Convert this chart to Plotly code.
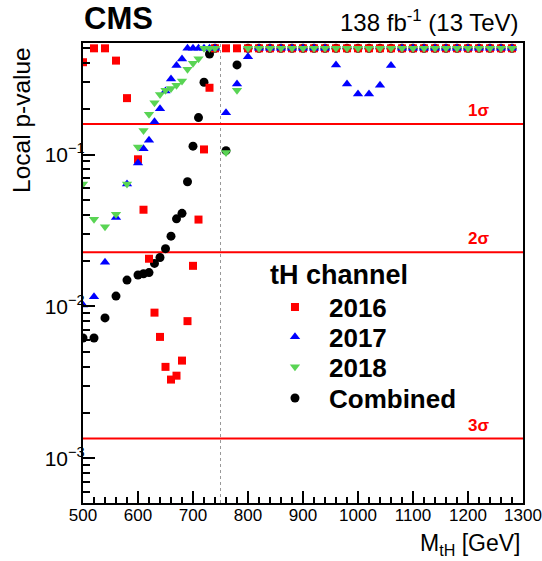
import math
import plotly.graph_objects as go

# ---------------- data ----------------
mass = [500, 520, 540, 560, 580, 600, 610, 620, 630, 640, 650, 660, 670, 680, 690,
        700, 710, 720, 730, 740, 760, 780, 800, 820, 840, 860, 880, 900, 920, 940,
        960, 980, 1000, 1020, 1040, 1060, 1080, 1100, 1120, 1140, 1160, 1180, 1200,
        1220, 1240, 1260, 1280]

p_2016 = [0.405, 0.5, 0.5, 0.415, 0.235, 0.093, 0.0433, 0.0206, 0.0091, 0.0063, 0.0040,
          0.0033, 0.0035, 0.0044, 0.0080, 0.0185, 0.0373, 0.108, 0.275, 0.5, 0.5, 0.5,
          0.5, 0.5, 0.5, 0.5, 0.5, 0.5, 0.5, 0.5, 0.5, 0.5, 0.5, 0.5, 0.5, 0.5, 0.5,
          0.5, 0.5, 0.5, 0.5, 0.5, 0.5, 0.5, 0.5, 0.5, 0.5]

p_2017 = [0.0102, 0.0116, 0.0195, 0.0385, 0.064, 0.088, 0.109, 0.124, 0.164, 0.20, 0.262,
          0.314, 0.385, 0.426, 0.5, 0.5, 0.5, 0.5, 0.5, 0.5, 0.188, 0.291, 0.44, 0.5,
          0.5, 0.5, 0.5, 0.5, 0.5, 0.5, 0.388, 0.291, 0.25, 0.25, 0.286, 0.385, 0.5,
          0.5, 0.5, 0.5, 0.5, 0.5, 0.5, 0.5, 0.5, 0.5, 0.5]

p_2018 = [0.064, 0.0375, 0.0334, 0.0404, 0.064, 0.112, 0.144, 0.184, 0.219, 0.248, 0.265,
          0.272, 0.286, 0.305, 0.364, 0.398, 0.427, 0.5, 0.5, 0.5, 0.103, 0.265, 0.5,
          0.5, 0.5, 0.5, 0.5, 0.5, 0.5, 0.5, 0.5, 0.5, 0.5, 0.5, 0.5, 0.5, 0.5, 0.5,
          0.5, 0.5, 0.5, 0.5, 0.5, 0.5, 0.5, 0.5, 0.5]

p_comb = [0.0062, 0.0062, 0.0084, 0.0117, 0.0149, 0.0161, 0.0164, 0.0167, 0.0192, 0.021,
          0.024, 0.029, 0.0377, 0.041, 0.0662, 0.1135, 0.175, 0.299, 0.459, 0.5, 0.106,
          0.389, 0.5, 0.5, 0.5, 0.5, 0.5, 0.5, 0.5, 0.5, 0.5, 0.5, 0.5, 0.5, 0.5, 0.5,
          0.5, 0.5, 0.5, 0.5, 0.5, 0.5, 0.5, 0.5, 0.5, 0.5, 0.5]

sigma_labels = ["1σ", "2σ", "3σ"]
sigma_pvalues = [0.1587, 0.02275, 0.00135]
sigma_x = [500, 1300]
marker_line_mass = 750

y_tick_vals = [0.001, 0.01, 0.1]
y_tick_text = ["10<sup>−3</sup>", "10<sup>−2</sup>", "10<sup>−1</sup>"]

# ---------------- figure ----------------
FONT = "Liberation Sans, Arial, Helvetica, sans-serif"
RED = "#ff0000"
BLUE = "#0000ff"
GREEN = "#59d454"

fig = go.Figure()

# sigma lines
for p in sigma_pvalues:
    fig.add_trace(go.Scatter(x=sigma_x, y=[p, p], mode="lines",
                             line=dict(color=RED, width=2),
                             showlegend=False, hoverinfo="skip"))

fig.add_trace(go.Scatter(x=mass, y=p_comb, mode="markers", name="Combined", legend="legend4",
                         marker=dict(symbol="circle", size=9, color="black",
                                     line=dict(width=0))))
fig.add_trace(go.Scatter(x=mass, y=p_2016, mode="markers", name="2016", legend="legend",
                         marker=dict(symbol="square", size=8, color=RED,
                                     line=dict(width=0))))
fig.add_trace(go.Scatter(x=mass, y=p_2017, mode="markers", name="2017", legend="legend2",
                         marker=dict(symbol="triangle-up", size=9, color=BLUE,
                                     line=dict(width=0))))
fig.add_trace(go.Scatter(x=mass, y=p_2018, mode="markers", name="2018", legend="legend3",
                         marker=dict(symbol="triangle-down", size=9, color=GREEN,
                                     line=dict(width=0))))

# dotted vertical line
fig.add_shape(type="line", xref="x", yref="paper", x0=marker_line_mass, x1=marker_line_mass,
              y0=0, y1=1, line=dict(color="#999999", width=1, dash="dot"), layer="below")

annotations = []
for lab, p in zip(sigma_labels, sigma_pvalues):
    annotations.append(dict(x=1219, y=math.log10(p), xref="x", yref="y", text="<b>" + lab + "</b>",
                            showarrow=False, xanchor="center", yanchor="bottom", yshift=2,
                            font=dict(family=FONT, size=17, color=RED)))

annotations += [
    dict(x=-0.002, y=1.053, xref="paper", yref="paper", text="<b>CMS</b>", showarrow=False,
         xanchor="left", yanchor="middle", font=dict(family=FONT, size=31, color="black")),
    dict(x=0.9955, y=1.048, xref="paper", yref="paper", text="138 fb<sup>-1</sup> (13 TeV)",
         showarrow=False, xanchor="right", yanchor="middle",
         font=dict(family=FONT, size=24, color="black")),
    dict(x=-0.1386, y=0.9957, xref="paper", yref="paper", text="Local p-value", textangle=-90,
         showarrow=False, xanchor="center", yanchor="top",
         font=dict(family=FONT, size=24.5, color="black")),
    dict(x=0.998, y=-0.0913, xref="paper", yref="paper", text="M<sub>tH</sub> [GeV]",
         showarrow=False, xanchor="right", yanchor="middle",
         font=dict(family=FONT, size=23, color="black")),
    dict(x=0.420, y=0.4957, xref="paper", yref="paper", text="<b>tH channel</b>",
         showarrow=False, xanchor="left", yanchor="middle",
         font=dict(family=FONT, size=27, color="black")),
]

minor_y = [m * 10 ** e for e in (-4, -3, -2, -1) for m in range(2, 10)]

legend_common = dict(xanchor="left", yanchor="middle", bgcolor="rgba(0,0,0,0)",
                     font=dict(family=FONT, size=26, color="black", weight="bold"),
                     itemwidth=58, borderwidth=0)

fig.update_layout(
    width=542, height=561,
    margin=dict(l=83, r=19, t=43, b=58, autoexpand=False),
    paper_bgcolor="white", plot_bgcolor="white",
    font=dict(family=FONT, color="black"),
    showlegend=True,
    legend=dict(x=0.4045, y=0.426, **legend_common),
    legend2=dict(x=0.4045, y=0.361, **legend_common),
    legend3=dict(x=0.4045, y=0.296, **legend_common),
    legend4=dict(x=0.4045, y=0.228, **legend_common),
    annotations=annotations,
    xaxis=dict(range=[500, 1300], dtick=100, tick0=500, ticks="inside", ticklen=12,
               tickwidth=1.5, tickcolor="black", showline=True, linecolor="black",
               linewidth=2, mirror=True, showgrid=False, zeroline=False,
               ticklabeloverflow="allow", ticklabelstandoff=-4, automargin=False,
               tickfont=dict(family=FONT, size=17, color="black"),
               minor=dict(dtick=20, tick0=500, ticks="inside", ticklen=6, tickwidth=1.5,
                          tickcolor="black", showgrid=False)),
    yaxis=dict(type="log", range=[-3.294, -0.266], tickvals=y_tick_vals, ticktext=y_tick_text,
               ticks="inside", ticklen=12, tickwidth=1.5, tickcolor="black",
               showline=True, linecolor="black", linewidth=2, mirror=True,
               showgrid=False, zeroline=False, ticklabelstandoff=-8,
               ticklabeloverflow="allow", automargin=False,
               tickfont=dict(family=FONT, size=21, color="black"),
               minor=dict(tickvals=minor_y, ticks="inside", ticklen=7, tickwidth=1.5,
                          tickcolor="black", showgrid=False)),
)

fig.write_html("out.html",
               config={"displayModeBar": False},
               post_script="document.body.style.margin='0px';document.body.style.overflow='hidden';")
